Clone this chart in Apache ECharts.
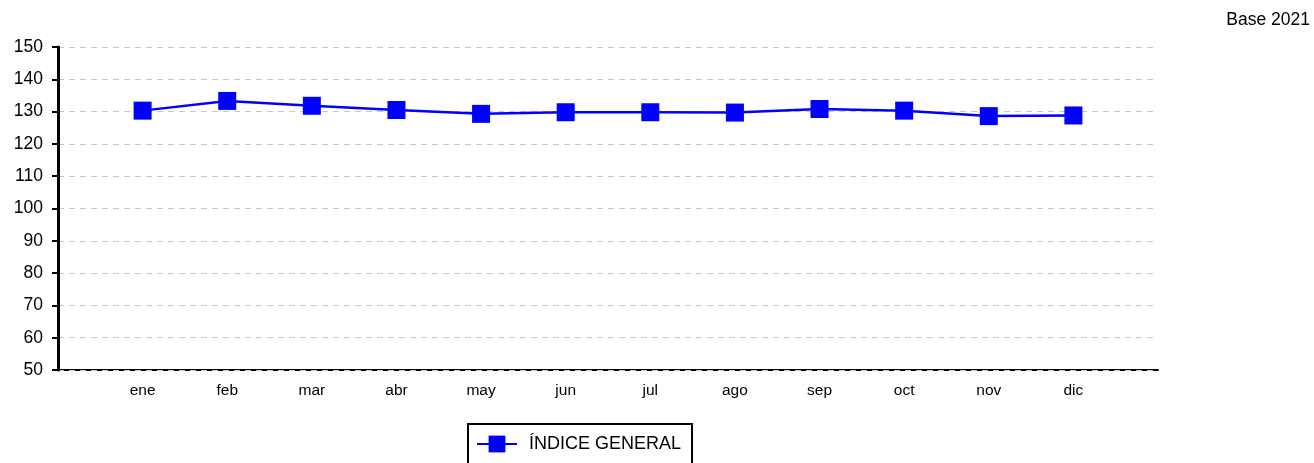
<!DOCTYPE html>
<html><head><meta charset="utf-8">
<script src="https://cdn.jsdelivr.net/npm/echarts@6/dist/echarts.min.js"></script>
<style>html,body{margin:0;padding:0;background:#fff}#c{width:1314px;height:463px}</style>
</head><body><div id="c"></div>
<script>
const categories = ['', 'ene', 'feb', 'mar', 'abr', 'may', 'jun', 'jul', 'ago', 'sep', 'oct', 'nov', 'dic', ''];
const indiceGeneral = [null, 130.3, 133.3, 131.8, 130.5, 129.3, 129.8, 129.8, 129.7, 130.8, 130.3, 128.6, 128.8, null];
const seriesName = 'ÍNDICE GENERAL';
const baseText = 'Base 2021';

const chart = echarts.init(document.getElementById('c'), null, {renderer: 'canvas'});
chart.setOption({
  animation: false,
  textStyle: {fontFamily: 'Liberation Sans, Arial, sans-serif'},
  graphic: [{
    type: 'text', right: 4, top: 11,
    style: {text: baseText, fill: '#000', font: '17.5px "Liberation Sans", Arial, sans-serif'}
  }],
  grid: {left: 58, right: 156, top: 47, bottom: 93, containLabel: false},
  legend: {
    left: 468, top: 424,
    padding: [11, 11, 20, 8],
    borderColor: '#000', borderWidth: 2,
    itemWidth: 40, itemHeight: 21,
    textStyle: {fontSize: 18, color: '#000', fontFamily: 'Liberation Sans, Arial, sans-serif', padding: [0, 0, 0, 7]},
    data: [seriesName]
  },
  xAxis: {
    type: 'category', data: categories, boundaryGap: false, z: 0,
    axisLine: {lineStyle: {color: '#000', width: 2}},
    axisTick: {show: false},
    axisLabel: {color: '#000', fontSize: 15.5, margin: 13, interval: 0},
    splitLine: {show: false}
  },
  yAxis: {
    type: 'value', min: 50, max: 150, interval: 10, z: 1,
    axisLine: {show: true, lineStyle: {color: '#000', width: 3}},
    axisTick: {show: true, length: 6, lineStyle: {color: '#000', width: 2}},
    axisLabel: {color: '#000', fontSize: 17.5, margin: 15},
    splitLine: {show: true, lineStyle: {color: '#c8c8c8', type: [6, 5], width: 1}}
  },
  series: [{
    name: seriesName, type: 'line', data: indiceGeneral, z: 3,
    symbol: 'rect', symbolSize: 18,
    lineStyle: {color: '#0000ff', width: 2.5},
    itemStyle: {color: '#0000ff'},
    connectNulls: false
  }]
});
</script></body></html>
